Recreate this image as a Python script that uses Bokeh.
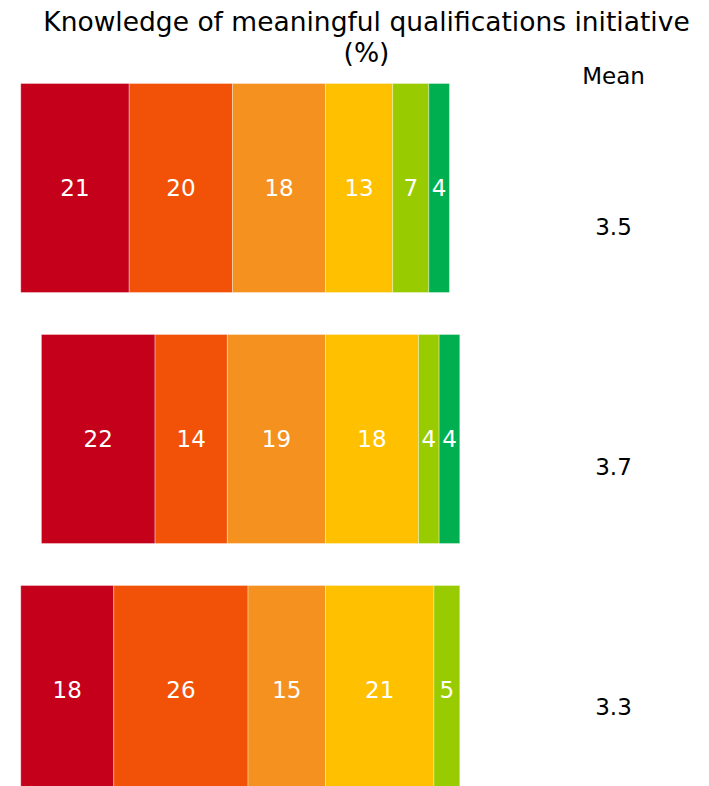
from bokeh.plotting import figure
from bokeh.models import ColumnDataSource, Range1d
from bokeh.core.properties import value
from bokeh.embed import file_html
from bokeh.resources import INLINE

# ---- data ----
rows = ["Group A", "Group B", "Group C"]
levels = ["1", "2", "3", "4", "5", "6"]
row1 = [21, 20, 18, 13, 7, 4]
row2 = [22, 14, 19, 18, 4, 4]
row3 = [18, 26, 15, 21, 5, 0]
means = [3.5, 3.7, 3.3]
title_line1 = "Knowledge of meaningful qualifications initiative"
title_line2 = "(%)"
mean_header = "Mean"

colors = ["#C5001A", "#F15208", "#F5921F", "#FFC000", "#99CC00", "#00B050"]
n_negative = 3  # first three levels stack to the left of the divide

FONT = "DejaVu Sans"

# ---- layout ----
W, H = 709, 786
PX_PER_UNIT = 5.165
ZERO_PX = 325
x_start = -ZERO_PX / PX_PER_UNIT
x_end = (W - ZERO_PX) / PX_PER_UNIT

row_y = [2, 1, 0]
bar_h = 0.833

p = figure(width=W, height=H, output_backend="svg", toolbar_location=None,
           x_range=Range1d(x_start, x_end), y_range=Range1d(-0.3845, 2.747),
           min_border=0, min_border_left=0, min_border_right=0,
           min_border_top=0, min_border_bottom=0)
p.extra_y_ranges = {"txt": Range1d(-0.333, 2.9417)}
p.xaxis.visible = False
p.yaxis.visible = False
p.grid.visible = False
p.outline_line_color = None
p.background_fill_color = "white"
p.border_fill_color = "white"

lefts, rights, ys, cols, labels, mids, lys = [], [], [], [], [], [], []
for vals, yy in zip([row1, row2, row3], row_y):
    neg = vals[:n_negative]
    cur = -sum(neg)
    for i, v in enumerate(vals):
        l, r = cur, cur + v
        cur = r
        if v <= 0:
            continue
        lefts.append(l); rights.append(r); ys.append(yy); cols.append(colors[i])
        labels.append(str(v)); mids.append((l + r) / 2); lys.append(yy)

src = ColumnDataSource(dict(left=lefts, right=rights, y=ys, color=cols))
p.hbar(y="y", left="left", right="right", height=bar_h, fill_color="color",
       line_color="white", line_alpha=0.35, line_width=1, source=src)

lsrc = ColumnDataSource(dict(x=mids, y=lys, t=labels))
p.text(x="x", y="y", text="t", source=lsrc, text_color="white",
       text_font=value(FONT), text_font_size="23px",
       text_align="center", text_baseline="middle")

mean_x = (613 - ZERO_PX) / PX_PER_UNIT
msrc = ColumnDataSource(dict(x=[mean_x] * 3, y=row_y, t=[f"{m:.1f}" for m in means]))
p.text(x="x", y="y", text="t", source=msrc, y_range_name="txt", text_color="black",
       text_font=value(FONT), text_font_size="23px",
       text_align="center", text_baseline="middle")

p.text(x=[mean_x], y=[2.629], text=[mean_header], y_range_name="txt",
       text_color="black", text_font=value(FONT), text_font_size="23px",
       text_align="center", text_baseline="middle")

title_x = (366 - ZERO_PX) / PX_PER_UNIT
p.text(x=[title_x, title_x], y=[2.854, 2.725], text=[title_line1, title_line2],
       y_range_name="txt", text_color="black", text_font=value(FONT),
       text_font_size="26.5px", text_align="center", text_baseline="middle")

open("out.html", "w").write(file_html(p, INLINE))
